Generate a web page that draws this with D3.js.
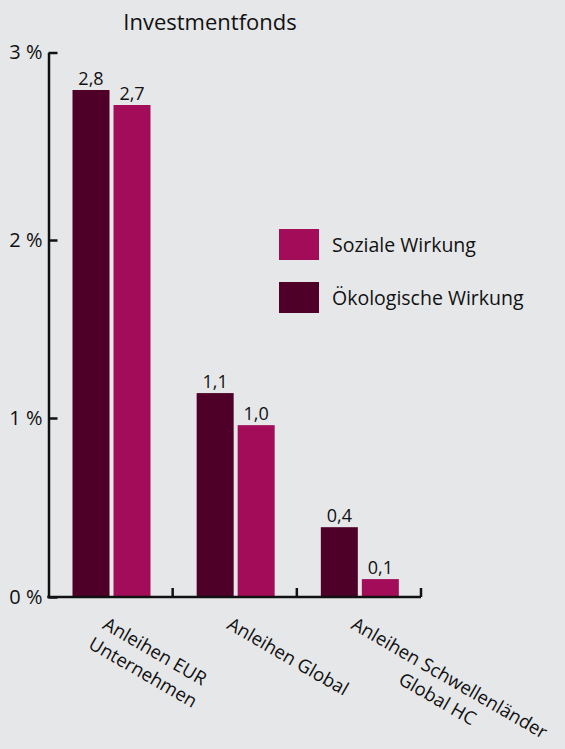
<!DOCTYPE html>
<html>
<head>
<meta charset="utf-8">
<script src="https://cdn.jsdelivr.net/npm/d3@7"></script>
<style>
  body { margin: 0; background: #e6e7e9; }
  svg { display: block; font-family: "Open Sans", sans-serif; }
  .axis path, .axis line { stroke: #111; stroke-width: 2.5; }
  .axis text { font-size: 20px; fill: #111; font-family: "Open Sans", sans-serif; }
</style>
</head>
<body>
<svg width="565" height="749"></svg>
<script>
// Daten
var categories = [["Anleihen EUR", "Unternehmen"], ["Anleihen Global"], ["Anleihen Schwellenländer", "Global HC"]];
var series = ["Ökologische Wirkung", "Soziale Wirkung"];
var oekologisch = [2.8, 1.14, 0.39];
var sozial = [2.72, 0.96, 0.10];
var oekoLabels = ["2,8", "1,1", "0,4"];
var sozialLabels = ["2,7", "1,0", "0,1"];
var yTicks = [0, 1, 2, 3];
var yTickLabels = ["0 %", "1 %", "2 %", "3 %"];

var colors = { "Ökologische Wirkung": "#4f0029", "Soziale Wirkung": "#a20c58" };

var svg = d3.select("svg");
svg.append("rect").attr("width", 565).attr("height", 749).attr("fill", "#e6e7e9");

var keys = categories.map(function (d) { return d.join(" "); });

// Schalen
var x0 = d3.scaleBand().domain(keys).range([48.5, 421]).padding(0);
var x1 = d3.scaleBand().domain(series).range([24, 102]).paddingInner(0.0976);
var y = d3.scaleLinear().domain(yTicks).range([597, 418, 240, 52.5]);

var data = keys.map(function (k, i) {
    return {
        key: k,
        values: [
            { s: series[0], v: oekologisch[i], label: oekoLabels[i] },
            { s: series[1], v: sozial[i], label: sozialLabels[i] }
        ]
    };
});

// Titel
svg.append("text")
    .attr("x", 210)
    .attr("y", 30)
    .attr("text-anchor", "middle")
    .style("font-size", "22px")
    .style("fill", "#111")
    .text("Investmentfonds");

// Balken
var groups = svg.selectAll(".group")
    .data(data)
    .enter().append("g")
    .attr("class", "group")
    .attr("transform", function (d) { return "translate(" + x0(d.key) + ",0)"; });

groups.selectAll("rect")
    .data(function (d) { return d.values; })
    .enter().append("rect")
    .attr("x", function (d) { return x1(d.s); })
    .attr("y", function (d) { return y(d.v); })
    .attr("width", x1.bandwidth())
    .attr("height", function (d) { return y(0) - y(d.v); })
    .attr("fill", function (d) { return colors[d.s]; });

groups.selectAll(".val")
    .data(function (d) { return d.values; })
    .enter().append("text")
    .attr("class", "val")
    .attr("x", function (d) { return x1(d.s) + x1.bandwidth() / 2; })
    .attr("y", function (d) { return y(d.v) - 5; })
    .attr("text-anchor", "middle")
    .style("font-size", "18px")
    .style("fill", "#111")
    .text(function (d) { return d.label; });

// Y-Achse
svg.append("g")
    .attr("class", "axis")
    .attr("transform", "translate(48.5,0)")
    .call(d3.axisLeft(y).tickValues(yTicks).tickSizeInner(-9).tickSizeOuter(0).tickPadding(6)
        .tickFormat(function (d, i) { return yTickLabels[i]; }));

// X-Achse
var xa = svg.append("g").attr("class", "axis");
xa.append("line")
    .attr("x1", 47.25).attr("x2", 421)
    .attr("y1", y(0)).attr("y2", y(0));
xa.selectAll(".tick")
    .data(keys)
    .enter().append("line")
    .attr("x1", function (d) { return x0(d) + x0.step(); })
    .attr("x2", function (d) { return x0(d) + x0.step(); })
    .attr("y1", y(0))
    .attr("y2", y(0) - 9);

// Kategorien, gedreht
var labels = svg.selectAll(".cat")
    .data(categories)
    .enter().append("text")
    .attr("class", "cat")
    .attr("transform", function (d, i) {
        return "translate(" + (x0(keys[i]) + x0.bandwidth() / 2 - 9) + ",628) rotate(30)";
    })
    .style("font-size", "18.5px")
    .style("fill", "#111");

labels.each(function (lines) {
    var t = d3.select(this);
    var first = t.append("tspan").attr("x", 0).attr("dy", 0).text(lines[0]);
    var w1 = first.node().getComputedTextLength();
    first.attr("x", w1 / 2).attr("text-anchor", "middle");
    lines.slice(1).forEach(function (l) {
        t.append("tspan").attr("x", w1 / 2).attr("dy", 24).attr("text-anchor", "middle").text(l);
    });
});

// Legende
var legendOrder = ["Soziale Wirkung", "Ökologische Wirkung"];
var legend = svg.selectAll(".legend")
    .data(legendOrder)
    .enter().append("g")
    .attr("class", "legend")
    .attr("transform", function (d, i) { return "translate(279," + (229 + i * 53) + ")"; });

legend.append("rect")
    .attr("width", 40)
    .attr("height", 31)
    .attr("fill", function (d) { return colors[d]; });

legend.append("text")
    .attr("x", 53)
    .attr("y", 23)
    .style("font-size", "19.5px")
    .style("fill", "#111")
    .text(function (d) { return d; });
</script>
</body>
</html>
